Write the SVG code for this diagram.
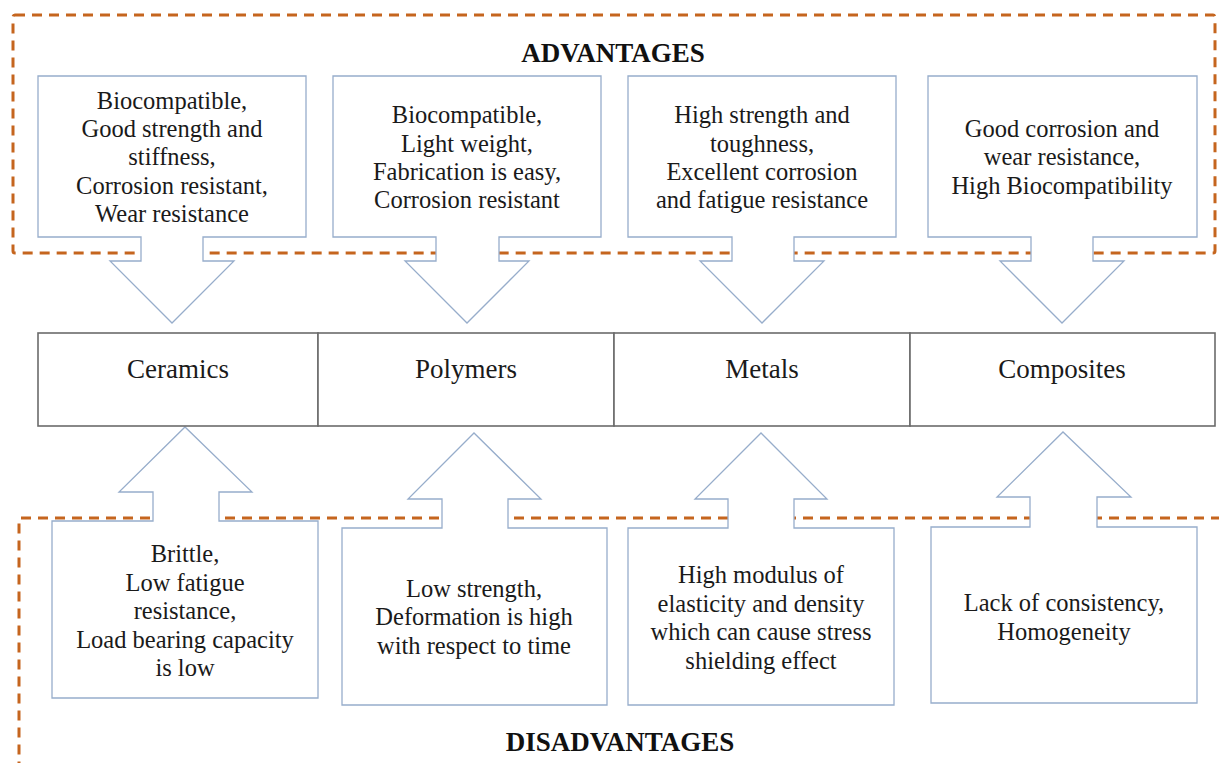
<svg xmlns="http://www.w3.org/2000/svg" width="1219" height="763" viewBox="0 0 1219 763">
<style>
.dash{fill:none;stroke:#C5651E;stroke-width:3;stroke-dasharray:10 7}
.call{fill:#fff;stroke:#97ADCB;stroke-width:1.3}
.cell{fill:#fff;stroke:#6b6b6b;stroke-width:1.6}
.t{font-family:"Liberation Serif","Times New Roman",serif;font-size:24.5px;fill:#1a1a1a;text-anchor:middle}
.lbl{font-family:"Liberation Serif","Times New Roman",serif;font-size:27px;fill:#1a1a1a;text-anchor:middle}
.hd{font-family:"Liberation Serif","Times New Roman",serif;font-size:27px;font-weight:bold;fill:#111;text-anchor:middle}
</style>
<rect width="1219" height="763" fill="#fff"/>
<g id="frames">
<rect class="dash" x="13" y="15" width="1202" height="238" rx="2"/>
<rect class="dash" x="19" y="518" width="1204" height="260" rx="2"/>
</g>
<text class="hd" x="613" y="62">ADVANTAGES</text>
<text class="hd" x="620" y="751">DISADVANTAGES</text>
<g id="connectors">
<g id="adv-ceramics"><path class="call" d="M38,76 H306 V237 H203 V261 H234 L172,323 L110,261 H141 V237 H38 Z"/>
<text class="t"><tspan x="172" y="109">Biocompatible,</tspan><tspan x="172" y="137.2">Good strength and</tspan><tspan x="172" y="165.4">stiffness,</tspan><tspan x="172" y="193.6">Corrosion resistant,</tspan><tspan x="172" y="221.8">Wear resistance</tspan></text></g>
<g id="adv-polymers"><path class="call" d="M333,76 H601 V237 H499 V261 H529 L467,323 L405,261 H436 V237 H333 Z"/>
<text class="t"><tspan x="467" y="123.3">Biocompatible,</tspan><tspan x="467" y="151.5">Light weight,</tspan><tspan x="467" y="179.7">Fabrication is easy,</tspan><tspan x="467" y="207.9">Corrosion resistant</tspan></text></g>
<g id="adv-metals"><path class="call" d="M628,76 H896 V237 H794 V261 H824 L762,323 L700,261 H732 V237 H628 Z"/>
<text class="t"><tspan x="762" y="123.3">High strength and</tspan><tspan x="762" y="151.5">toughness,</tspan><tspan x="762" y="179.7">Excellent corrosion</tspan><tspan x="762" y="207.9">and fatigue resistance</tspan></text></g>
<g id="adv-composites"><path class="call" d="M928,76 H1197 V237 H1093 V261 H1124 L1062,323 L1000,261 H1031 V237 H928 Z"/>
<text class="t"><tspan x="1062" y="137.2">Good corrosion and</tspan><tspan x="1062" y="165.4">wear resistance,</tspan><tspan x="1062" y="193.6">High Biocompatibility</tspan></text></g>
<g id="dis-ceramics"><path class="call" d="M52,521 H153 V492 H119 L185,427 L252,492 H219 V521 H318 V698 H52 Z"/>
<text class="t"><tspan x="185" y="562">Brittle,</tspan><tspan x="185" y="590.5">Low fatigue</tspan><tspan x="185" y="619">resistance,</tspan><tspan x="185" y="647.5">Load bearing capacity</tspan><tspan x="185" y="676">is low</tspan></text></g>
<g id="dis-polymers"><path class="call" d="M342,528 H442 V499 H408 L474,433 L541,499 H508 V528 H607 V705 H342 Z"/>
<text class="t"><tspan x="474" y="596.5">Low strength,</tspan><tspan x="474" y="625">Deformation is high</tspan><tspan x="474" y="653.5">with respect to time</tspan></text></g>
<g id="dis-metals"><path class="call" d="M628,528 H728 V499 H695 L761,433 L827,499 H794 V528 H894 V705 H628 Z"/>
<text class="t"><tspan x="761" y="583">High modulus of</tspan><tspan x="761" y="611.5">elasticity and density</tspan><tspan x="761" y="640">which can cause stress</tspan><tspan x="761" y="668.5">shielding effect</tspan></text></g>
<g id="dis-composites"><path class="call" d="M931,527 H1030 V497 H997 L1063,432 L1131,497 H1097 V527 H1197 V703 H931 Z"/>
<text class="t"><tspan x="1064" y="611">Lack of consistency,</tspan><tspan x="1064" y="639.5">Homogeneity</tspan></text></g>
</g>
<g id="materials">
<g id="ceramics"><rect class="cell" x="38" y="333" width="280" height="93"/><text class="lbl" x="178" y="378">Ceramics</text></g>
<g id="polymers"><rect class="cell" x="318" y="333" width="296" height="93"/><text class="lbl" x="466" y="378">Polymers</text></g>
<g id="metals"><rect class="cell" x="614" y="333" width="296" height="93"/><text class="lbl" x="762" y="378">Metals</text></g>
<g id="composites"><rect class="cell" x="910" y="333" width="305" height="93"/><text class="lbl" x="1062" y="378">Composites</text></g>
</g>
</svg>
